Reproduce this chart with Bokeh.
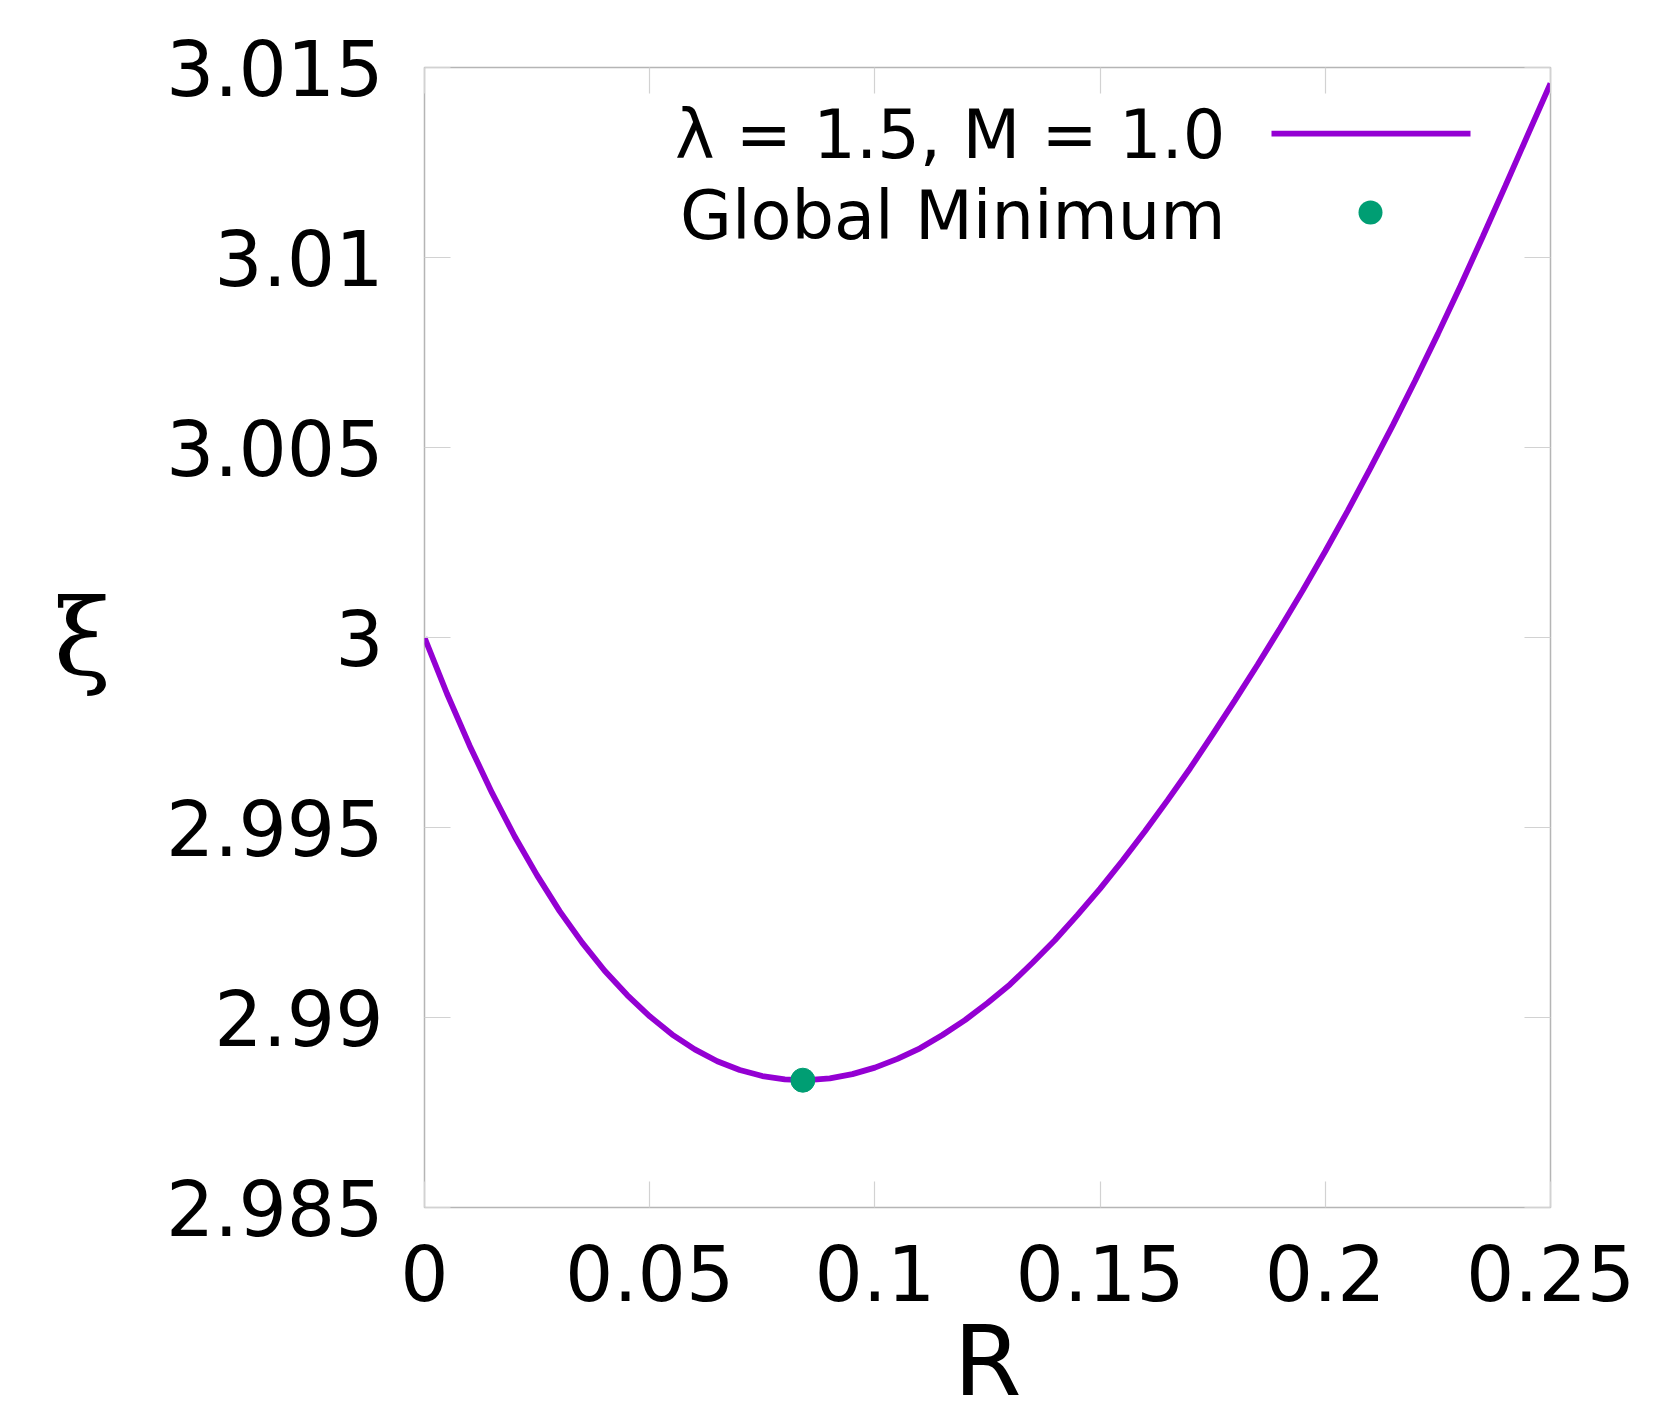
from bokeh.plotting import figure
from bokeh.models import Range1d, FixedTicker, LinearAxis, Label, BoxAnnotation
from bokeh.embed import file_html
from bokeh.resources import INLINE

# ---- data ----
R_values = [0.000, 0.005, 0.010, 0.015, 0.020, 0.025, 0.030, 0.035, 0.040, 0.045,
            0.050, 0.055, 0.060, 0.065, 0.070, 0.075, 0.080, 0.084, 0.085, 0.090,
            0.095, 0.100, 0.105, 0.110, 0.115, 0.120, 0.125, 0.130, 0.135, 0.140,
            0.145, 0.150, 0.155, 0.160, 0.165, 0.170, 0.175, 0.180, 0.185, 0.190,
            0.195, 0.200, 0.205, 0.210, 0.215, 0.220, 0.225, 0.230, 0.235, 0.240,
            0.245, 0.250]
xi_values = [3.00000, 2.99852, 2.99716, 2.99591, 2.99477, 2.99374, 2.99280, 2.99197, 2.99123, 2.99059,
             2.99003, 2.98955, 2.98916, 2.98885, 2.98862, 2.98846, 2.98837, 2.98835, 2.98835, 2.98840,
             2.98851, 2.98868, 2.98891, 2.98919, 2.98954, 2.98993, 2.99038, 2.99087, 2.99144, 2.99204,
             2.99270, 2.99339, 2.99413, 2.99491, 2.99572, 2.99656, 2.99745, 2.99836, 2.99929, 3.00025,
             3.00124, 3.00227, 3.00334, 3.00445, 3.00559, 3.00677, 3.00799, 3.00925, 3.01056, 3.01189,
             3.01324, 3.01458]
min_R = [0.0840]
min_xi = [2.98835]

x_ticks = [0.0, 0.05, 0.1, 0.15, 0.2, 0.25]
x_tick_labels = ["0", "0.05", "0.1", "0.15", "0.2", "0.25"]
y_ticks = [2.985, 2.99, 2.995, 3.0, 3.005, 3.01, 3.015]
y_tick_labels = ["2.985", "2.99", "2.995", "3", "3.005", "3.01", "3.015"]

series_label = "λ = 1.5, M = 1.0"
min_label = "Global Minimum"
x_label = "R"
y_label = "ξ"

LINE_COLOR = "#9400D3"
MIN_COLOR = "#009E73"
FONT = "DejaVu Sans"
TICK_COLOR = "#d2d2d2"

p = figure(width=1658, height=1422, output_backend="svg", toolbar_location=None,
           x_range=Range1d(0, 0.25), y_range=Range1d(2.985, 3.015),
           x_axis_location=None, y_axis_location=None,
           min_border_left=424, min_border_right=108,
           min_border_top=67, min_border_bottom=215)
p.grid.visible = False
p.outline_line_color = "#b5b5b5"
p.outline_line_width = 1.5
p.background_fill_color = "white"
p.border_fill_color = "white"


def make_axis(ticks, labels, show):
    ax = LinearAxis(ticker=FixedTicker(ticks=ticks, minor_ticks=[]))
    ax.major_tick_in = 26
    ax.major_tick_out = 0
    ax.minor_tick_in = 0
    ax.minor_tick_out = 0
    ax.major_tick_line_color = TICK_COLOR
    ax.major_tick_line_width = 1.2
    ax.axis_line_color = None
    if show:
        ax.major_label_overrides = {t: s for t, s in zip(ticks, labels)}
        ax.major_label_text_font = FONT
        ax.major_label_text_font_size = "76px"
        ax.major_label_text_color = "black"
    else:
        ax.major_label_overrides = {t: "" for t in ticks}
        ax.major_label_text_font_size = "0px"
        ax.major_label_standoff = 0
    return ax


xb = make_axis(x_ticks, x_tick_labels, True)
xb.major_label_standoff = 37
xb.axis_label = x_label
xb.axis_label_text_font = FONT
xb.axis_label_text_font_size = "98px"
xb.axis_label_text_font_style = "normal"
xb.axis_label_text_color = "black"
xb.axis_label_standoff = 0

xt = make_axis(x_ticks, x_tick_labels, False)

yl = make_axis(y_ticks, y_tick_labels, True)
yl.major_label_standoff = 41
yl.axis_label = y_label
yl.axis_label_orientation = "horizontal"
yl.axis_label_text_font = "DejaVu Serif"
yl.axis_label_text_font_size = "104px"
yl.axis_label_text_font_style = "normal"
yl.axis_label_text_color = "black"
yl.axis_label_standoff = 52
yr = make_axis(y_ticks, y_tick_labels, False)

p.add_layout(xb, "below")
p.add_layout(xt, "above")
p.add_layout(yl, "left")
p.add_layout(yr, "right")

p.line(R_values, xi_values, line_width=5.8, line_color=LINE_COLOR)
p.scatter(min_R, min_xi, size=24, fill_color=MIN_COLOR, line_color=MIN_COLOR)

# legend (text on the left, sample on the right, as in the reference)
p.add_layout(Label(x=801, y=1073, x_units="screen", y_units="screen", text=series_label,
                   text_align="right", text_baseline="alphabetic",
                   text_font=FONT, text_font_size="67px", text_color="black"))
p.add_layout(Label(x=801, y=992, x_units="screen", y_units="screen", text=min_label,
                   text_align="right", text_baseline="alphabetic",
                   text_font=FONT, text_font_size="67px", text_color="black"))
p.add_layout(BoxAnnotation(left=847, right=1046, bottom=1071, top=1076.8,
                           left_units="screen", right_units="screen",
                           bottom_units="screen", top_units="screen",
                           fill_color=LINE_COLOR, fill_alpha=1.0, line_color=None))
p.add_layout(BoxAnnotation(left=934, right=958, bottom=983, top=1007,
                           left_units="screen", right_units="screen",
                           bottom_units="screen", top_units="screen",
                           border_radius=12,
                           fill_color=MIN_COLOR, fill_alpha=1.0, line_color=None))

open("out.html", "w").write(file_html(p, INLINE))
